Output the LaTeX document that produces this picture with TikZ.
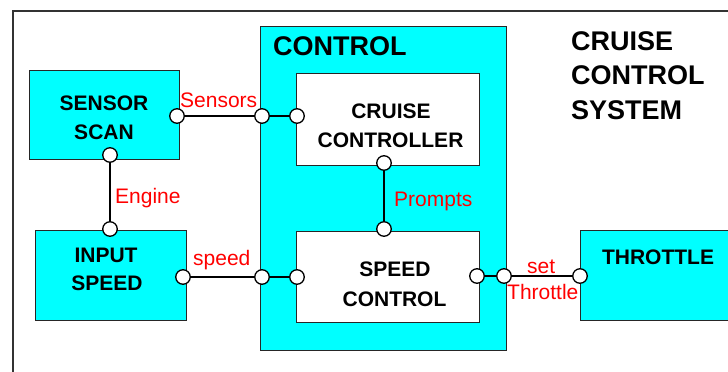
\documentclass[tikz,border=0pt]{standalone}
\usepackage{fontspec}
\setmainfont{Liberation Sans}
\definecolor{aqua}{RGB}{0,255,255}
\begin{document}
\begin{tikzpicture}[x=1pt,y=-1pt,
  cbox/.style={draw=black!85,line width=1pt,fill=aqua,inner sep=0pt,outer sep=0pt},
  wbox/.style={draw=black!85,line width=1pt,fill=white,inner sep=0pt,outer sep=0pt},
  port/.style={circle,draw=black,line width=1.3pt,fill=white,minimum size=14.5pt,inner sep=0pt},
  conn/.style={draw=black,line width=2pt},
  btxt/.style={inner sep=0pt,anchor=base,font=\fontsize{21}{25}\selectfont\bfseries},
  ttxt/.style={inner sep=0pt,anchor=base west,font=\fontsize{27}{32}\selectfont\bfseries},
  rtxt/.style={inner sep=0pt,anchor=base west,text=red,font=\fontsize{21}{25}\selectfont}]
\useasboundingbox (0,0) rectangle (728,372);
\clip (0,0) rectangle (728,372);
% frame
\draw[black!80,line width=1.3pt] (13,380) -- (13,11) -- (740,11);
% boxes
\node[cbox,minimum width=246,minimum height=324] (ctl) at (383,188) {};
\node[cbox,minimum width=150,minimum height=89] (ss) at (104,114.5) {};
\node[cbox,minimum width=151,minimum height=90] (is) at (110.5,275) {};
\node[wbox,minimum width=183,minimum height=92] (cc) at (387.5,119) {};
\node[wbox,minimum width=183,minimum height=91] (sc) at (387.5,276.5) {};
\node[cbox,minimum width=160,minimum height=90] (th) at (660,275) {};
% box texts
\node[ttxt] (ctlT) at (273,55) {CONTROL};
\node[ttxt] (sysA) at (571,50) {CRUISE};
\node[ttxt] (sysB) at (571,84) {CONTROL};
\node[ttxt] (sysC) at (571,119) {SYSTEM};
\node[btxt] (ssA) at (104,110) {SENSOR};
\node[btxt] (ssB) at (104,139) {SCAN};
\node[btxt] (isA) at (106,262) {INPUT};
\node[btxt] (isB) at (107,290) {SPEED};
\node[btxt] (ccA) at (391,118) {CRUISE};
\node[btxt] (ccB) at (390.5,147) {CONTROLLER};
\node[btxt] (scA) at (395,276) {SPEED};
\node[btxt] (scB) at (394.5,306) {CONTROL};
\node[btxt] (thA) at (658,264) {THROTTLE};
% ports
\node[port] (pssE) at (177,116) {};
\node[port] (pctlW1) at (262,116) {};
\node[port] (pccW) at (297,116) {};
\node[port] (pssS) at (110,155) {};
\node[port] (pisN) at (110,229) {};
\node[port] (pisE) at (183,277) {};
\node[port] (pctlW2) at (262,277) {};
\node[port] (pscW) at (297,277) {};
\node[port] (pccS) at (384,163) {};
\node[port] (pscN) at (384,229) {};
\node[port] (pscE) at (477,276) {};
\node[port] (pctlE) at (504,276) {};
\node[port] (pthW) at (580,276) {};
% connectors
\draw[conn] (pssE) -- (pctlW1);
\draw[conn] (pctlW1) -- (pccW);
\draw[conn] (pssS) -- (pisN);
\draw[conn] (pisE) -- (pctlW2);
\draw[conn] (pctlW2) -- (pscW);
\draw[conn] (pccS) -- (pscN);
\draw[conn] (pscE) -- (pctlE);
\draw[conn] (pctlE) -- (pthW);
% labels
\node[rtxt] (lSens) at (180,107) {Sensors};
\node[rtxt] (lEng) at (115,203) {Engine};
\node[rtxt] (lSpd) at (193,265) {speed};
\node[rtxt] (lPr) at (394,206) {Prompts};
\node[rtxt] (lSet) at (527,273) {set};
\node[rtxt] (lThr) at (507,299) {Throttle};
\end{tikzpicture}
\end{document}
